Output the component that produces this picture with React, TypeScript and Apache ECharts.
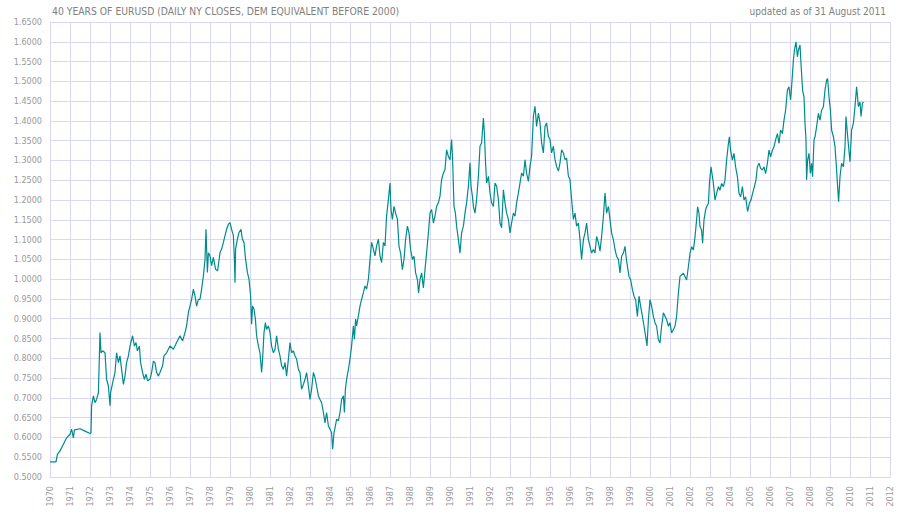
import React, { useEffect, useRef } from 'react';
import * as echarts from 'echarts';

// [decimal year, EURUSD close]
const closes1970s: [number, number][] = [
  [1970.00,0.538],[1970.30,0.538],[1970.37,0.557],[1970.50,0.566],[1970.67,0.583],[1970.83,0.599],[1971.00,0.608],[1971.08,0.621],[1971.17,0.599],[1971.22,0.619],[1971.50,0.622],[1971.75,0.616],[1972.00,0.610],[1972.05,0.612],[1972.08,0.680],[1972.17,0.705],[1972.25,0.688],[1972.33,0.696],[1972.42,0.713],[1972.47,0.806],[1972.50,0.865],[1972.55,0.814],[1972.63,0.819],[1972.75,0.814],[1972.83,0.747],[1972.92,0.730],[1973.00,0.680],[1973.03,0.713],[1973.17,0.747],[1973.25,0.764],[1973.33,0.814],[1973.42,0.789],[1973.50,0.806],[1973.58,0.772],[1973.67,0.734],[1973.75,0.755],[1973.83,0.789],[1973.92,0.806],[1974.00,0.831],[1974.13,0.857],[1974.22,0.831],[1974.30,0.840],[1974.37,0.819],[1974.47,0.831],[1974.53,0.789],[1974.63,0.764],[1974.72,0.747],[1974.80,0.760],[1974.88,0.743],[1975.00,0.747],[1975.08,0.764],[1975.17,0.793],[1975.25,0.789],[1975.33,0.764],[1975.42,0.755],[1975.50,0.764],[1975.63,0.781],[1975.70,0.806],[1975.83,0.814],[1976.00,0.831],[1976.17,0.823],[1976.33,0.840],[1976.50,0.857],[1976.63,0.844],[1976.75,0.865],[1976.83,0.882],[1976.92,0.916],[1977.00,0.932],[1977.08,0.949],[1977.17,0.975],[1977.25,0.958],[1977.33,0.932],[1977.42,0.949],[1977.50,0.949],[1977.58,0.975],[1977.67,1.008],[1977.75,1.050],[1977.80,1.126],[1977.87,1.017],[1977.92,1.067],[1978.00,1.059],[1978.08,1.034],[1978.17,1.055],[1978.28,1.025],[1978.38,1.021],[1978.50,1.067],[1978.58,1.076],[1978.67,1.093],[1978.75,1.110],[1978.83,1.126],[1978.92,1.139],[1979.00,1.143],[1979.08,1.126],[1979.17,1.110],[1979.22,1.050],[1979.25,0.991],[1979.28,1.076],[1979.37,1.101],[1979.45,1.118],[1979.55,1.126],[1979.62,1.101],[1979.70,1.093],[1979.78,1.050],[1979.87,1.017],[1979.95,1.000]
];

const closes1980s: [number, number][] = [
  [1980.03,0.958],[1980.08,0.886],[1980.13,0.932],[1980.20,0.924],[1980.27,0.899],[1980.33,0.857],[1980.42,0.831],[1980.50,0.814],[1980.58,0.764],[1980.63,0.798],[1980.70,0.865],[1980.77,0.890],[1980.83,0.873],[1980.92,0.882],[1981.00,0.865],[1981.08,0.831],[1981.17,0.814],[1981.25,0.823],[1981.33,0.857],[1981.42,0.823],[1981.50,0.806],[1981.58,0.781],[1981.67,0.772],[1981.75,0.789],[1981.83,0.755],[1981.92,0.798],[1982.00,0.840],[1982.08,0.814],[1982.17,0.819],[1982.25,0.806],[1982.33,0.798],[1982.42,0.772],[1982.50,0.764],[1982.58,0.722],[1982.67,0.734],[1982.75,0.747],[1982.83,0.764],[1982.92,0.730],[1983.00,0.696],[1983.08,0.722],[1983.17,0.764],[1983.25,0.751],[1983.33,0.730],[1983.42,0.705],[1983.50,0.696],[1983.58,0.688],[1983.67,0.663],[1983.75,0.637],[1983.83,0.663],[1983.92,0.629],[1984.00,0.621],[1984.08,0.612],[1984.13,0.570],[1984.20,0.612],[1984.27,0.629],[1984.33,0.646],[1984.42,0.642],[1984.50,0.663],[1984.58,0.696],[1984.67,0.705],[1984.72,0.663],[1984.77,0.722],[1984.83,0.747],[1984.92,0.772],[1985.00,0.798],[1985.08,0.831],[1985.17,0.882],[1985.22,0.848],[1985.28,0.899],[1985.33,0.882],[1985.42,0.907],[1985.50,0.932],[1985.58,0.949],[1985.67,0.966],[1985.75,0.983],[1985.83,0.975],[1985.92,1.000],[1986.00,1.050],[1986.08,1.093],[1986.17,1.076],[1986.25,1.059],[1986.33,1.084],[1986.42,1.101],[1986.50,1.059],[1986.58,1.042],[1986.67,1.093],[1986.75,1.084],[1986.83,1.160],[1986.92,1.201],[1987.00,1.243],[1987.05,1.175],[1987.12,1.151],[1987.20,1.184],[1987.28,1.167],[1987.37,1.151],[1987.45,1.083],[1987.53,1.066],[1987.62,1.024],[1987.70,1.050],[1987.78,1.100],[1987.87,1.134],[1987.95,1.117],[1988.03,1.075],[1988.12,1.050],[1988.20,1.058],[1988.28,1.016],[1988.37,0.999],[1988.43,0.965],[1988.50,0.999],[1988.58,1.016],[1988.67,0.978],[1988.75,1.024],[1988.83,1.066],[1988.92,1.117],[1989.00,1.167],[1989.08,1.176],[1989.17,1.142],[1989.25,1.159],[1989.33,1.184],[1989.42,1.193],[1989.50,1.210],[1989.58,1.252],[1989.67,1.268],[1989.75,1.277],[1989.83,1.327],[1989.92,1.310]
];

const closes1990s: [number, number][] = [
  [1990.00,1.302],[1990.08,1.353],[1990.13,1.302],[1990.20,1.184],[1990.27,1.167],[1990.33,1.134],[1990.42,1.100],[1990.50,1.066],[1990.58,1.117],[1990.67,1.134],[1990.75,1.167],[1990.83,1.193],[1990.92,1.235],[1991.00,1.294],[1991.05,1.235],[1991.12,1.210],[1991.17,1.184],[1991.25,1.167],[1991.33,1.201],[1991.42,1.260],[1991.50,1.336],[1991.58,1.344],[1991.67,1.407],[1991.72,1.369],[1991.77,1.302],[1991.83,1.243],[1991.92,1.260],[1992.00,1.218],[1992.08,1.193],[1992.17,1.184],[1992.25,1.243],[1992.33,1.235],[1992.42,1.201],[1992.50,1.142],[1992.58,1.130],[1992.67,1.226],[1992.75,1.193],[1992.83,1.167],[1992.92,1.151],[1993.00,1.117],[1993.08,1.142],[1993.17,1.167],[1993.25,1.159],[1993.33,1.193],[1993.42,1.218],[1993.50,1.243],[1993.58,1.268],[1993.67,1.260],[1993.75,1.302],[1993.83,1.268],[1993.92,1.247],[1994.00,1.285],[1994.08,1.311],[1994.17,1.412],[1994.25,1.437],[1994.33,1.386],[1994.42,1.420],[1994.50,1.395],[1994.58,1.344],[1994.67,1.319],[1994.75,1.386],[1994.83,1.395],[1994.92,1.361],[1995.00,1.353],[1995.08,1.319],[1995.17,1.336],[1995.25,1.302],[1995.33,1.285],[1995.42,1.273],[1995.50,1.294],[1995.58,1.327],[1995.67,1.319],[1995.75,1.302],[1995.83,1.306],[1995.92,1.260],[1996.00,1.252],[1996.08,1.201],[1996.17,1.151],[1996.25,1.167],[1996.33,1.134],[1996.42,1.142],[1996.50,1.100],[1996.58,1.050],[1996.67,1.100],[1996.75,1.117],[1996.83,1.142],[1996.92,1.100],[1997.00,1.083],[1997.08,1.066],[1997.17,1.075],[1997.25,1.066],[1997.33,1.108],[1997.42,1.092],[1997.50,1.071],[1997.58,1.108],[1997.67,1.159],[1997.75,1.218],[1997.83,1.167],[1997.92,1.184],[1998.00,1.151],[1998.08,1.117],[1998.17,1.100],[1998.25,1.075],[1998.33,1.058],[1998.42,1.050],[1998.50,1.016],[1998.58,1.058],[1998.67,1.066],[1998.75,1.083],[1998.80,1.058],[1998.87,1.033],[1998.95,1.007],[1999.03,0.999],[1999.12,0.974],[1999.20,0.957],[1999.28,0.948],[1999.37,0.906],[1999.45,0.957],[1999.53,0.932],[1999.62,0.906],[1999.70,0.881],[1999.78,0.856],[1999.85,0.831],[1999.92,0.898]
];

const closes2000s: [number, number][] = [
  [2000.00,0.948],[2000.08,0.932],[2000.17,0.906],[2000.25,0.890],[2000.33,0.881],[2000.42,0.847],[2000.50,0.839],[2000.58,0.881],[2000.67,0.915],[2000.75,0.906],[2000.83,0.898],[2000.92,0.881],[2001.00,0.890],[2001.08,0.864],[2001.17,0.873],[2001.25,0.881],[2001.33,0.906],[2001.42,0.965],[2001.50,1.007],[2001.67,1.015],[2001.83,0.998],[2001.92,1.032],[2002.00,1.065],[2002.08,1.082],[2002.17,1.074],[2002.25,1.107],[2002.33,1.150],[2002.38,1.183],[2002.45,1.166],[2002.50,1.133],[2002.58,1.124],[2002.63,1.091],[2002.70,1.150],[2002.78,1.175],[2002.83,1.183],[2002.92,1.192],[2002.97,1.242],[2003.05,1.284],[2003.12,1.259],[2003.17,1.242],[2003.25,1.200],[2003.33,1.217],[2003.42,1.234],[2003.50,1.225],[2003.58,1.242],[2003.67,1.234],[2003.75,1.251],[2003.83,1.301],[2003.92,1.343],[2003.97,1.360],[2004.03,1.326],[2004.12,1.301],[2004.20,1.318],[2004.28,1.284],[2004.37,1.259],[2004.45,1.217],[2004.53,1.208],[2004.62,1.234],[2004.70,1.200],[2004.78,1.208],[2004.88,1.171],[2004.97,1.192],[2005.05,1.200],[2005.13,1.217],[2005.22,1.234],[2005.30,1.251],[2005.37,1.284],[2005.45,1.293],[2005.53,1.280],[2005.62,1.276],[2005.70,1.284],[2005.78,1.267],[2005.87,1.293],[2005.95,1.326],[2006.03,1.309],[2006.12,1.326],[2006.20,1.335],[2006.28,1.352],[2006.37,1.368],[2006.45,1.343],[2006.53,1.377],[2006.62,1.368],[2006.70,1.402],[2006.78,1.427],[2006.87,1.478],[2006.95,1.486],[2007.03,1.453],[2007.08,1.486],[2007.17,1.554],[2007.22,1.579],[2007.30,1.600],[2007.37,1.562],[2007.42,1.579],[2007.50,1.592],[2007.55,1.545],[2007.63,1.478],[2007.70,1.461],[2007.75,1.394],[2007.80,1.352],[2007.83,1.251],[2007.88,1.301],[2007.95,1.318],[2008.02,1.267],[2008.08,1.293],[2008.13,1.259],[2008.20,1.352],[2008.25,1.360],[2008.33,1.385],[2008.42,1.419],[2008.50,1.402],[2008.58,1.427],[2008.67,1.436],[2008.75,1.478],[2008.83,1.503],[2008.88,1.507],[2008.95,1.461],[2009.02,1.427],[2009.08,1.377],[2009.17,1.360],[2009.25,1.335],[2009.33,1.276],[2009.38,1.234],[2009.43,1.196],[2009.50,1.259],[2009.58,1.293],[2009.67,1.284],[2009.75,1.335],[2009.80,1.411],[2009.87,1.368],[2009.93,1.335]
];

const closes2010s: [number, number][] = [
  [2010.00,1.297],[2010.08,1.377],[2010.17,1.394],[2010.25,1.436],[2010.33,1.486],[2010.42,1.436],[2010.50,1.448],[2010.55,1.411],[2010.62,1.444],[2010.67,1.448]
];

const titleText = '40 YEARS OF EURUSD (DAILY NY CLOSES, DEM EQUIVALENT BEFORE 2000)';
const updatedText = 'updated as of 31 August 2011';

const FONT = '"DejaVu Sans Condensed", "DejaVu Sans", sans-serif';
const GRID = '#d8d8f5';

export default function App() {
  const ref = useRef<HTMLDivElement>(null);
  useEffect(() => {
    document.body.style.margin = '0';
    const chart = echarts.init(ref.current!, null, { renderer: 'svg' });
    const data = [...closes1970s, ...closes1980s, ...closes1990s, ...closes2000s, ...closes2010s];
    chart.setOption({
      animation: false,
      backgroundColor: '#ffffff',
      textStyle: { fontFamily: FONT },
      grid: { left: 50, right: 10, top: 22, bottom: 41, containLabel: false },
      xAxis: {
        type: 'value', min: 1970, max: 2012, interval: 1,
        axisLine: { show: true, lineStyle: { color: GRID } },
        axisTick: { show: false },
        splitLine: { show: true, lineStyle: { color: GRID, width: 1 } },
        axisLabel: { rotate: 90, margin: 9, color: '#999999', fontSize: 9, fontFamily: FONT,
          formatter: (v: number) => String(v) },
      },
      yAxis: {
        type: 'value', min: 0.5, max: 1.65, interval: 0.05,
        axisLine: { show: true, lineStyle: { color: GRID } },
        axisTick: { show: false },
        splitLine: { show: true, lineStyle: { color: GRID, width: 1 } },
        axisLabel: { margin: 8, color: '#999999', fontSize: 9, fontFamily: FONT,
          formatter: (v: number) => v.toFixed(4) },
      },
      graphic: [
        { type: 'text', x: 52, y: 11, silent: true,
          style: { text: titleText, fill: '#808080', fontSize: 10.3, fontFamily: FONT, align: 'left', verticalAlign: 'middle' } },
        { type: 'text', x: 886, y: 11, silent: true,
          style: { text: updatedText, fill: '#808080', fontSize: 10, fontFamily: FONT, align: 'right', verticalAlign: 'middle' } },
      ],
      series: [{
        type: 'line', data, showSymbol: false, symbol: 'none', silent: true,
        lineStyle: { color: '#008b8b', width: 1.2 },
      }],
    });
    return () => chart.dispose();
  }, []);
  return <div ref={ref} style={{ position: 'fixed', left: 0, top: 0, width: 900, height: 518 }} />;
}
